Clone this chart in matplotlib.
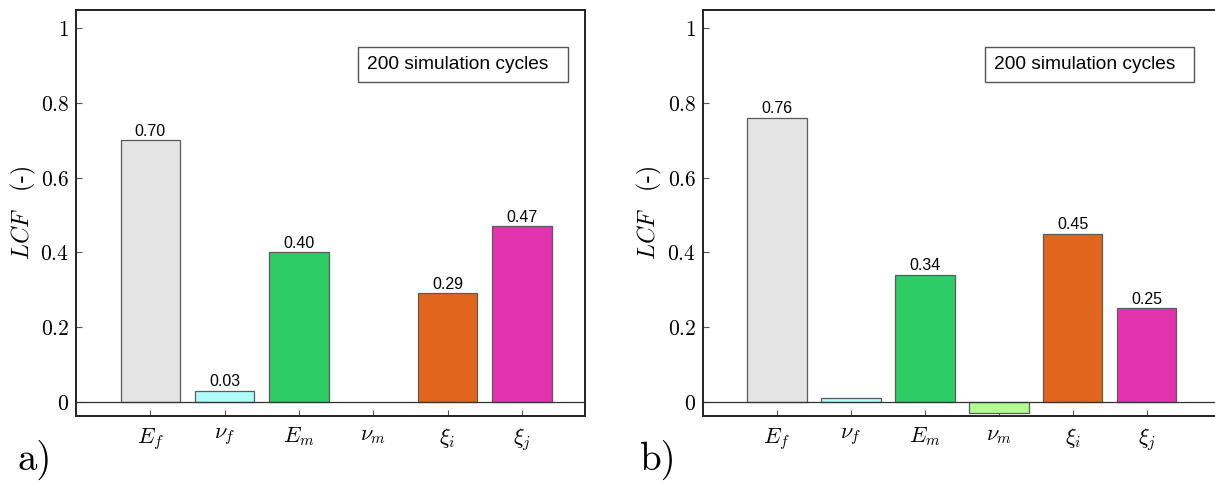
import matplotlib
matplotlib.use("Agg")
import matplotlib.pyplot as plt
from matplotlib.patches import Rectangle
from matplotlib.ticker import FuncFormatter

plt.rcParams['mathtext.fontset'] = 'cm'

# Data
params = [r'$E_f$', r'$\nu_f$', r'$E_m$', r'$\nu_m$', r'$\xi_i$', r'$\xi_j$']
lcf_a = [0.70, 0.03, 0.40, 0.0, 0.29, 0.47]
lcf_b = [0.76, 0.01, 0.34, -0.03, 0.45, 0.25]
colors = ['#e4e4e4', '#b0fcfb', '#2ecc66', '#b2fc93', '#e2651e', '#e433ae']
yticks = [0, 0.2, 0.4, 0.6, 0.8, 1]
box_text = "200 simulation cycles"

fig = plt.figure(figsize=(12.15, 4.82), dpi=100)
ax_a = fig.add_axes([0.0626, 0.137, 0.419, 0.842])
ax_b = fig.add_axes([0.5786, 0.137, 0.425, 0.842])


def draw(ax, values, xmax, box_x0, box_x1, text_x):
    x = range(len(values))
    lw = [0.9 if v != 0 else 0 for v in values]
    bars = ax.bar(x, values, width=0.8, color=colors, edgecolor='#5a5a5a', linewidth=lw, zorder=2)
    for b, v in zip(bars, values):
        if v > 0.02:
            ax.text(b.get_x() + b.get_width() / 2, v + 0.004, f"{v:.2f}",
                    ha='center', va='bottom', fontsize=11.5, family='Liberation Sans')
    ax.axhline(0, color='#333333', linewidth=0.9, zorder=3)
    ax.set_xlim(-1, xmax)
    ax.set_ylim(-0.038, 1.048)
    ax.set_xticks(list(x))
    ax.set_xticklabels(params, fontsize=16)
    ax.set_yticks(yticks)
    ax.yaxis.set_major_formatter(FuncFormatter(lambda v, p: r'$%g$' % v))
    ax.tick_params(axis='y', direction='in', labelsize=15.5, length=4, color='#555555', pad=5)
    ax.tick_params(axis='x', direction='in', length=4, color='#555555', pad=7)
    for s in ax.spines.values():
        s.set_linewidth(1.4)
        s.set_color('#222222')
    ax.set_ylabel(r'$LCF\ \ \ $(-)', fontsize=17, family='cmr10', labelpad=2)
    ax.add_patch(Rectangle((box_x0, 0.823), box_x1 - box_x0, 0.086, transform=ax.transAxes,
                           facecolor='white', edgecolor='#555555', linewidth=1, zorder=4))
    ax.text(text_x, 0.866, box_text, transform=ax.transAxes, fontsize=13.8,
            family='Liberation Sans', va='center', ha='left', zorder=5)
    return ax


draw(ax_a, lcf_a, 5.85, 0.554, 0.967, 0.571)
draw(ax_b, lcf_b, 5.98, 0.547, 0.950, 0.563)

fig.text(0.014, 0.025, 'a)', fontsize=28, family='cmr10')
fig.text(0.527, 0.025, 'b)', fontsize=28, family='cmr10')

fig.savefig('out.png', dpi=100)
